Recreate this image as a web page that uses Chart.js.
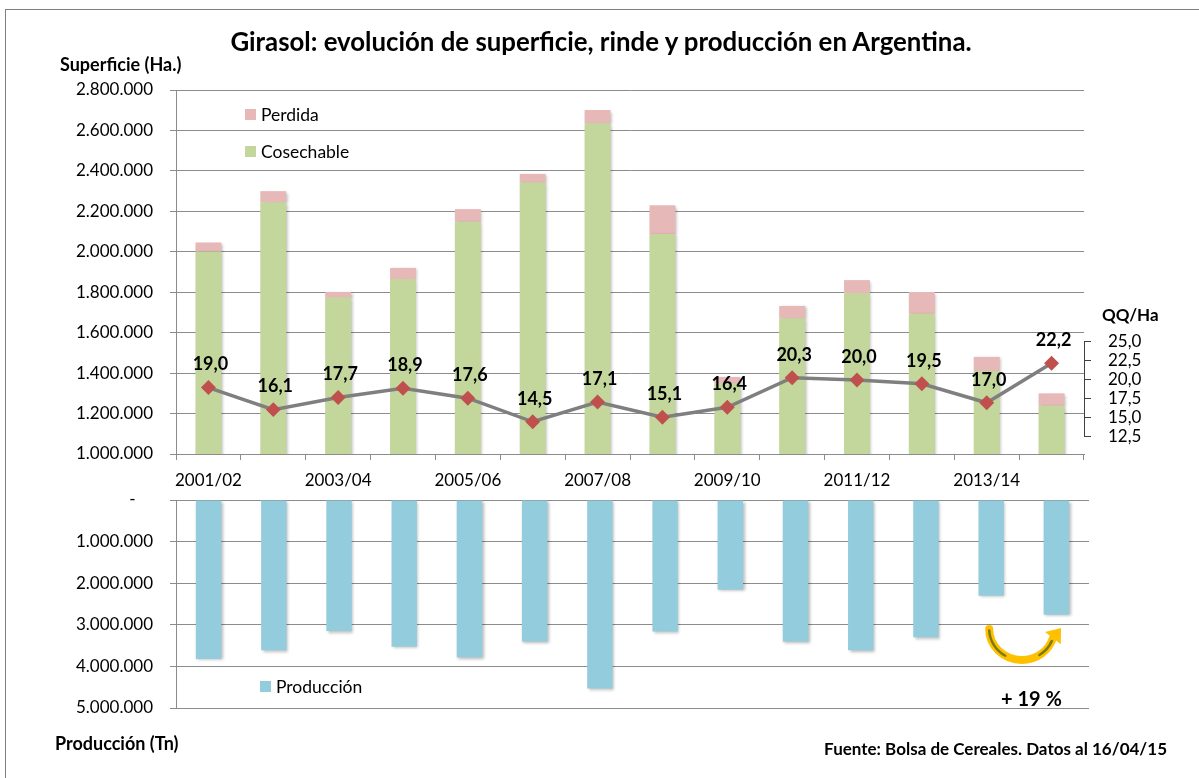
<!DOCTYPE html>
<html>
<head>
<meta charset="utf-8">
<script src="https://cdn.jsdelivr.net/npm/chart.js@4.4.1/dist/chart.umd.min.js"></script>
<style>
    html, body { margin: 0; padding: 0; background: #fff; overflow: hidden; }
    body { width: 1199px; height: 778px; position: relative; font-family: Lato, 'Open Sans', sans-serif; color: #000; }
    .frame { position: absolute; left: 5px; top: 9px; width: 1300px; height: 900px; border: 1px solid #7f7f7f; }
    canvas { position: absolute; left: 0; }
    #topChart { top: 0; }
    #bottomChart { top: 470px; }
    .txt { position: absolute; white-space: nowrap; line-height: 1; transform: translateY(-50%); }
    .b { font-weight: bold; }
    .key { position: absolute; width: 11px; height: 11px; }
</style>
</head>
<body>
<div class="frame"></div>
<canvas id="topChart" width="1199" height="490"></canvas>
<canvas id="bottomChart" width="1199" height="308"></canvas>

<div class="txt b" style="left:601px; top:42px; font-size:25.8px; transform:translate(-50%,-50%);">Girasol: evolución de superficie, rinde y producción en Argentina.</div>
<div class="txt b" style="left:60px; top:64px; font-size:18px;">Superficie (Ha.)</div>
<div class="txt b" style="left:1102px; top:314px; font-size:17px;">QQ/Ha</div>
<div class="txt b" style="left:55px; top:743px; font-size:18px;">Producción (Tn)</div>
<div class="txt b" style="right:32px; top:748px; font-size:17px;">Fuente: Bolsa de Cereales. Datos al 16/04/15</div>
<div class="txt b" style="left:1001px; top:698px; font-size:20px;">+ 19 %</div>

<div class="key" style="left:245px; top:109px; background:#e6b9b8;"></div>
<div class="txt" style="left:261px; top:115px; font-size:17.5px;">Perdida</div>
<div class="key" style="left:245px; top:146px; background:#c3d69b;"></div>
<div class="txt" style="left:261px; top:152px; font-size:17.5px;">Cosechable</div>
<div class="key" style="left:260px; top:681px; background:#93cddd;"></div>
<div class="txt" style="left:276px; top:687px; font-size:17.5px;">Producción</div>

<script>
// ---- data ----
const seasons = ['2001/02', '2002/03', '2003/04', '2004/05', '2005/06', '2006/07', '2007/08',
    '2008/09', '2009/10', '2010/11', '2011/12', '2012/13', '2013/14', '2014/15'];
const cosechable = [2001000, 2245000, 1775000, 1865000, 2149000, 2342000, 2635000,
    2088000, 1350000, 1671000, 1795000, 1694000, 1410000, 1239000];
const perdida = [45000, 55000, 26000, 55000, 62000, 43000, 66000,
    142000, 31000, 61000, 65000, 107000, 70000, 61000];
const rinde = [19.0, 16.1, 17.7, 18.9, 17.6, 14.5, 17.1, 15.1, 16.4, 20.3, 20.0, 19.5, 17.0, 22.2];
const produccion = [3820000, 3610000, 3150000, 3530000, 3780000, 3400000, 4530000,
    3160000, 2160000, 3400000, 3610000, 3300000, 2300000, 2760000];
const rindeTicks = [12.5, 15, 17.5, 20, 22.5, 25];

const FONT = 'Lato';
const GRID = '#8c8c8c';

function fmtMiles(v) {
    return String(Math.round(v)).replace(/\B(?=(\d{3})+(?!\d))/g, '.');
}
function fmtDec(v) {
    return v.toFixed(1).replace('.', ',');
}

// soft shadow under the bars, like the spreadsheet
const barShadow = {
    id: 'barShadow',
    beforeDatasetDraw(chart, args) {
        if (chart.data.datasets[args.index].type === 'line') return;
        const ctx = chart.ctx;
        ctx.save();
        ctx.shadowColor = 'rgba(0,0,0,0.28)';
        ctx.shadowBlur = 3;
        ctx.shadowOffsetX = 1.5;
        ctx.shadowOffsetY = 1.5;
    },
    afterDatasetDraw(chart, args) {
        if (chart.data.datasets[args.index].type === 'line') return;
        chart.ctx.restore();
    }
};

// rinde labels above the points + short right axis line
const rindeExtras = {
    id: 'rindeExtras',
    afterDatasetsDraw(chart) {
        const ctx = chart.ctx;
        const y2 = chart.scales.y2;
        const x = chart.chartArea.right + 0.5;
        ctx.save();
        ctx.strokeStyle = '#404040';
        ctx.lineWidth = 1;
        ctx.beginPath();
        ctx.moveTo(x, y2.getPixelForValue(rindeTicks[0]));
        ctx.lineTo(x, y2.getPixelForValue(rindeTicks[rindeTicks.length - 1]));
        ctx.stroke();

        const meta = chart.getDatasetMeta(2);
        ctx.fillStyle = '#000';
        ctx.font = 'bold 18px ' + FONT;
        ctx.textAlign = 'center';
        ctx.textBaseline = 'middle';
        meta.data.forEach((pt, i) => {
            ctx.fillText(fmtDec(rinde[i]), pt.x + 2, pt.y - 23);
        });
        ctx.restore();
    }
};

const topChart = new Chart(document.getElementById('topChart'), {
    data: {
        labels: seasons,
        datasets: [
            {
                type: 'bar',
                label: 'Cosechable',
                data: cosechable,
                backgroundColor: '#c3d69b',
                categoryPercentage: 1,
                barPercentage: 0.4,
                stack: 'sup',
                order: 2,
            },
            {
                type: 'bar',
                label: 'Perdida',
                data: perdida,
                backgroundColor: '#e6b9b8',
                categoryPercentage: 1,
                barPercentage: 0.4,
                stack: 'sup',
                order: 2,
            },
            {
                type: 'line',
                label: 'QQ/Ha',
                data: rinde,
                yAxisID: 'y2',
                borderColor: '#7f7f7f',
                borderWidth: 3.5,
                tension: 0,
                pointStyle: 'rectRot',
                pointRadius: 5,
                pointBackgroundColor: '#c0504d',
                pointBorderColor: '#c0504d',
                order: 0,
            }
        ]
    },
    options: {
        responsive: false,
        animation: false,
        layout: { padding: { top: 90, left: 0, right: 0, bottom: 0 } },
        plugins: {
            legend: { display: false },
            tooltip: { enabled: false }
        },
        scales: {
            x: {
                stacked: true,
                grid: {
                    drawOnChartArea: false,
                    drawTicks: true,
                    tickLength: 6,
                    color: GRID,
                    offset: true,
                },
                border: { display: true, color: GRID },
                ticks: {
                    autoSkip: false,
                    maxRotation: 0,
                    padding: 10,
                    color: '#000',
                    font: { size: 17, family: FONT },
                    callback: (v, i) => (i % 2 === 0 ? seasons[i] : ''),
                },
                afterFit: (s) => { s.height = 36; }
            },
            y: {
                stacked: true,
                min: 1000000,
                max: 2800000,
                grid: { color: GRID, tickLength: 6 },
                border: { display: true, color: GRID },
                ticks: {
                    stepSize: 200000,
                    padding: 17,
                    color: '#000',
                    font: { size: 17, family: FONT },
                    callback: (v) => fmtMiles(v),
                },
                afterFit: (s) => { s.width = 176; }
            },
            y2: {
                position: 'right',
                min: 10.26,
                max: 58.16,
                grid: { drawOnChartArea: false, color: '#404040', tickLength: 7 },
                border: { display: false },
                ticks: {
                    padding: 17,
                    color: '#000',
                    font: { size: 17, family: FONT },
                    callback: (v) => fmtDec(v),
                },
                afterBuildTicks: (s) => { s.ticks = rindeTicks.map(v => ({ value: v })); },
                afterFit: (s) => { s.width = 115; }
            }
        }
    },
    plugins: [barShadow, rindeExtras]
});

// curved "+19 %" arrow between the last two production bars
const growthArrow = {
    id: 'growthArrow',
    afterDatasetsDraw(chart) {
        const ctx = chart.ctx;
        const xs = chart.scales.x, ys = chart.scales.y;
        const n = produccion.length;
        const x1 = xs.getPixelForValue(n - 2);
        const x2 = xs.getPixelForValue(n - 1);
        const cx = (x1 + x2) / 2 - 2, rx = (x2 - x1) / 2;
        const cy = ys.getPixelForValue(3100000), ry = 31;
        const end = 0.3;
        ctx.save();
        ctx.lineCap = 'round';
        ctx.strokeStyle = '#ffc000';
        ctx.lineWidth = 8;
        ctx.beginPath();
        ctx.ellipse(cx, cy, rx, ry, 0, Math.PI, end, true);
        ctx.stroke();
        ctx.strokeStyle = '#7a7a10';
        ctx.lineWidth = 2.5;
        ctx.beginPath();
        ctx.ellipse(cx, cy, rx, ry, 0, Math.PI - 0.05, 2.1, true);
        ctx.stroke();
        ctx.beginPath();
        ctx.ellipse(cx, cy, rx, ry, 0, 1.0, end + 0.1, true);
        ctx.stroke();
        // arrow head
        const ex = cx + rx * Math.cos(end), ey = cy + ry * Math.sin(end);
        const dx = rx * Math.sin(end) + 14, dy = -ry * Math.cos(end);
        const len = Math.hypot(dx, dy);
        const ux = dx / len, uy = dy / len;
        ctx.fillStyle = '#ffc000';
        ctx.beginPath();
        ctx.moveTo(ex + ux * 13, ey + uy * 13);
        ctx.lineTo(ex - uy * 10, ey + ux * 10);
        ctx.lineTo(ex + uy * 10, ey - ux * 10);
        ctx.closePath();
        ctx.fill();
        ctx.restore();
    }
};

const bottomChart = new Chart(document.getElementById('bottomChart'), {
    type: 'bar',
    data: {
        labels: seasons,
        datasets: [{
            label: 'Producción',
            data: produccion,
            backgroundColor: '#93cddd',
            categoryPercentage: 1,
            barPercentage: 0.39,
        }]
    },
    options: {
        responsive: false,
        animation: false,
        layout: { padding: { top: 30, left: 0, right: 110, bottom: 70 } },
        plugins: {
            legend: { display: false },
            tooltip: { enabled: false }
        },
        scales: {
            x: { display: false },
            y: {
                reverse: true,
                min: 0,
                max: 5000000,
                grid: { color: GRID, tickLength: 6 },
                border: { display: true, color: GRID },
                ticks: {
                    stepSize: 1000000,
                    padding: 17,
                    color: '#000',
                    font: { size: 17, family: FONT },
                    callback: (v) => (v === 0 ? '-    ' : fmtMiles(v)),
                },
                afterFit: (s) => { s.width = 176; }
            }
        }
    },
    plugins: [barShadow, growthArrow]
});
</script>
</body>
</html>
